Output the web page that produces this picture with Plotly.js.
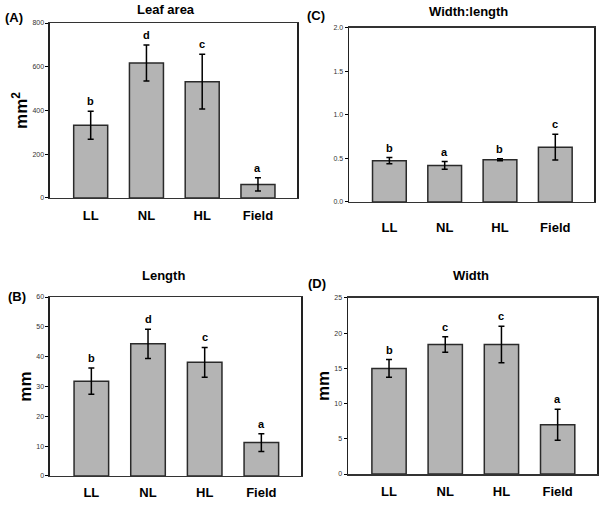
<!DOCTYPE html>
<html>
<head>
<meta charset="utf-8">
<script src="https://cdn.plot.ly/plotly-3.0.1.min.js"></script>
<style>html,body{margin:0;padding:0;background:#fff;}#chart{width:600px;height:506px;}</style>
</head>
<body>
<div id="chart"></div>
<script>
const categories = ["LL", "NL", "HL", "Field"];

const areaMean = [333, 617, 532, 62];
const areaErr = [64, 82, 125, 30];
const areaLetters = ["b", "d", "c", "a"];

const ratioMean = [0.475, 0.42, 0.486, 0.63];
const ratioErr = [0.036, 0.045, 0.012, 0.148];
const ratioLetters = ["b", "a", "b", "c"];

const lengthMean = [31.8, 44.3, 38.1, 11.2];
const lengthErr = [4.4, 4.9, 5.0, 3.0];
const lengthLetters = ["b", "d", "c", "a"];

const widthMean = [15.0, 18.4, 18.4, 7.0];
const widthErr = [1.25, 1.1, 2.6, 2.2];
const widthLetters = ["b", "c", "c", "a"];

const panels = [
  {key: "", mean: areaMean, err: areaErr, letters: areaLetters, title: "Leaf area", tag: "(A)", ytitle: "mm<sup>2</sup>",
   xd: [0.0833, 0.495], yd: [0.6087, 0.9545], yr: [0, 800], dt: 200, fmt: "", standoff: 5,
   titlePos: [0.277, 1.0], tagPos: [0.005, 0.985]},
  {key: "2", mean: ratioMean, err: ratioErr, letters: ratioLetters, title: "Width:length", tag: "(C)", ytitle: null,
   xd: [0.5817, 0.99], yd: [0.6008, 0.9447], yr: [0, 2.0], dt: 0.5, fmt: ".1f", standoff: 13,
   titlePos: [0.78, 0.997], tagPos: [0.508, 0.988]},
  {key: "3", mean: lengthMean, err: lengthErr, letters: lengthLetters, title: "Length", tag: "(B)", ytitle: "mm",
   xd: [0.0833, 0.5017], yd: [0.0593, 0.413], yr: [0, 60], dt: 10, fmt: "", standoff: 4,
   titlePos: [0.272, 0.475], tagPos: [0.01, 0.433]},
  {key: "4", mean: widthMean, err: widthErr, letters: widthLetters, title: "Width", tag: "(D)", ytitle: "mm",
   xd: [0.58, 0.995], yd: [0.0632, 0.4111], yr: [0, 25], dt: 5, fmt: "", standoff: 5,
   titlePos: [0.785, 0.475], tagPos: [0.51, 0.458]}
];

const data = [];
const annotations = [];
const layout = {
  width: 600, height: 506,
  margin: {l: 0, r: 0, t: 0, b: 0},
  paper_bgcolor: "#ffffff", plot_bgcolor: "#ffffff",
  showlegend: false,
  font: {family: "Liberation Sans, Arial, sans-serif", color: "#000"},
  annotations: annotations
};

panels.forEach(p => {
  const xa = "x" + p.key, ya = "y" + p.key;
  data.push({
    type: "bar", x: categories, y: p.mean, xaxis: xa, yaxis: ya,
    width: 0.61,
    marker: {color: "#b4b4b4", line: {color: "#2a2a2a", width: 1.5}},
    error_y: {type: "data", array: p.err, visible: true, color: "#000", thickness: 1.5, width: 3},
    hoverinfo: "skip"
  });
  layout["xaxis" + p.key] = {
    domain: p.xd, anchor: ya, type: "category", range: [-0.73, 3.7],
    showgrid: false, zeroline: false, showline: true, linecolor: "#333", linewidth: 1.5, mirror: true,
    ticks: "", tickfont: {size: 13, family: "Liberation Sans, Arial", color: "#000", weight: "bold"},
    ticklabelstandoff: p.standoff, fixedrange: true
  };
  const yaxis = {
    domain: p.yd, anchor: xa, range: p.yr, dtick: p.dt, tick0: 0, tickformat: p.fmt,
    showgrid: false, zeroline: false, showline: true, linecolor: "#222", linewidth: 1.5, mirror: true,
    ticks: "outside", ticklen: 3, tickwidth: 1, tickcolor: "#000",
    tickfont: {size: 7, color: "#333"},
    fixedrange: true
  };
  if (p.ytitle) {
    yaxis.title = {text: p.ytitle, font: {size: 17, weight: "bold"}, standoff: 0};
  }
  layout["yaxis" + p.key] = yaxis;
  p.letters.forEach((L, i) => {
    annotations.push({
      xref: xa, yref: ya, x: categories[i], y: p.mean[i] + p.err[i],
      text: L, showarrow: false, yanchor: "bottom", yshift: 2,
      font: {size: 11, weight: "bold"}
    });
  });
  annotations.push({
    xref: "paper", yref: "paper", x: p.titlePos[0], y: p.titlePos[1],
    text: p.title, showarrow: false, xanchor: "center", yanchor: "top",
    font: {size: 13, weight: "bold"}
  });
  annotations.push({
    xref: "paper", yref: "paper", x: p.tagPos[0], y: p.tagPos[1],
    text: p.tag, showarrow: false, xanchor: "left", yanchor: "top",
    font: {size: 13, weight: "bold"}
  });
});

Plotly.newPlot("chart", data, layout, {staticPlot: true, displayModeBar: false});
</script>
</body>
</html>
